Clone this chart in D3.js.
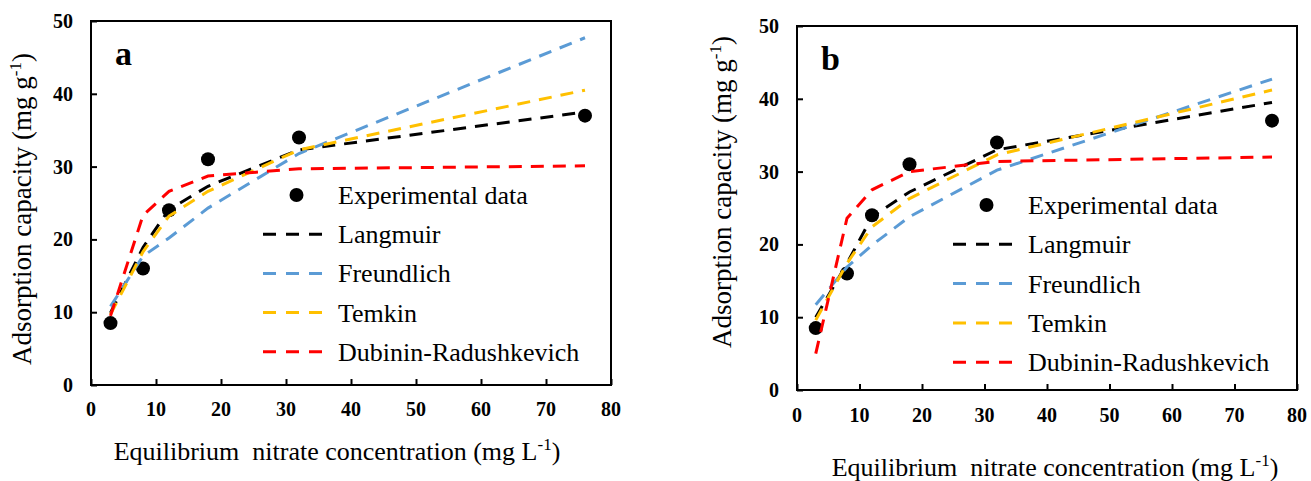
<!DOCTYPE html>
<html lang="en">
	<head>
		<meta charset="utf-8">
		<title>Adsorption isotherms a and b</title>
		<script type="text/javascript" src="https://cdn.jsdelivr.net/npm/d3@7"></script>
		<style type="text/css">
			body { margin: 0; background: #fff; }
		</style>
	</head>
	<body>
		<script type="text/javascript">

			//Width and height of the page
			var w = 1311;
			var h = 481;
			var serif = "'Liberation Serif', 'Times New Roman', Times, 'DejaVu Serif', serif";

			//Equilibrium concentrations (same for both panels)
			var xValues = [3, 8, 12, 18, 32, 76];
			var experimental = [8.5, 16, 24, 31, 34, 37];

			//Panel a model fits
			var langmuirA    = [9.9, 18.9, 24.1, 27.3, 32.3, 37.5];
			var freundlichA  = [10.8, 17.7, 20.2, 24.3, 31.8, 47.7];
			var temkinA      = [9.7, 18.3, 23.2, 26.6, 32.3, 40.5];
			var dubininA     = [9.5, 23.3, 26.6, 28.7, 29.7, 30.1];

			//Panel b model fits
			var langmuirB    = [10.0, 17.4, 23.8, 27.2, 33.0, 39.5];
			var freundlichB  = [11.7, 16.9, 19.9, 23.8, 30.2, 42.7];
			var temkinB      = [9.6, 17.4, 22.4, 26.3, 32.3, 41.2];
			var dubininB     = [5.0, 23.6, 27.5, 30.0, 31.4, 32.0];

			//Axis ticks and legend names
			var xTicks = [0, 10, 20, 30, 40, 50, 60, 70, 80];
			var yTicks = [0, 10, 20, 30, 40, 50];
			var seriesNames = ["Langmuir", "Freundlich", "Temkin", "Dubinin-Radushkevich"];
			var seriesColors = ["#000000", "#5B9BD5", "#FFC000", "#FF0000"];

			//Panel layout
			var panels = [
				{ label: "a", left: 91, right: 611, top: 21, bottom: 385,
				  fits: [langmuirA, freundlichA, temkinA, dubininA],
				  legX: 263, legY: 195, legStep: 39.2,
				  yTitleX: 31, yTitleY: 209, xTitleX: 337, xTitleY: 460, xTickY: 416 },
				{ label: "b", left: 797, right: 1297, top: 26, bottom: 390,
				  fits: [langmuirB, freundlichB, temkinB, dubininB],
				  legX: 953, legY: 205, legStep: 39.3,
				  yTitleX: 731, yTitleY: 192, xTitleX: 1055, xTitleY: 476, xTickY: 422 }
			];

			var svg = d3.select("body")
						.append("svg")
						.attr("width", w)
						.attr("height", h)
						.attr("font-family", serif);

			panels.forEach(function(p) {

				var xScale = d3.scaleLinear().domain([0, 80]).range([p.left, p.right]);
				var yScale = d3.scaleLinear().domain([0, 50]).range([p.bottom, p.top]);

				var g = svg.append("g");

				//Axes with inward ticks
				var xAxis = d3.axisBottom(xScale).tickValues(xTicks).tickSizeInner(-6).tickSizeOuter(0).tickFormat("");
				var yAxis = d3.axisLeft(yScale).tickValues(yTicks).tickSizeInner(-6).tickSizeOuter(0).tickFormat("");

				g.append("g")
				 .attr("transform", "translate(0," + p.bottom + ")")
				 .call(xAxis)
				 .call(function(s) {
				 	s.select(".domain").remove();
				 	s.selectAll("line").attr("stroke", "#000").attr("stroke-width", 2);
				 });

				g.append("g")
				 .attr("transform", "translate(" + p.left + ",0)")
				 .call(yAxis)
				 .call(function(s) {
				 	s.select(".domain").remove();
				 	s.selectAll("line").attr("stroke", "#000").attr("stroke-width", 2);
				 });

				//Frame round the plot area
				g.append("rect")
				 .attr("x", p.left)
				 .attr("y", p.top)
				 .attr("width", p.right - p.left)
				 .attr("height", p.bottom - p.top)
				 .attr("fill", "none")
				 .attr("stroke", "#000")
				 .attr("stroke-width", 2);

				//Tick labels
				g.selectAll(".xt")
				 .data(xTicks)
				 .enter()
				 .append("text")
				 .attr("font-family", serif)
				 .attr("font-weight", "bold")
				 .attr("font-size", "20px")
				 .attr("x", function(d) { return xScale(d); })
				 .attr("y", p.xTickY)
				 .attr("text-anchor", "middle")
				 .text(function(d) { return d; });

				g.selectAll(".yt")
				 .data(yTicks)
				 .enter()
				 .append("text")
				 .attr("font-family", serif)
				 .attr("font-weight", "bold")
				 .attr("font-size", "20px")
				 .attr("x", p.left - 18)
				 .attr("y", function(d) { return yScale(d) + 7; })
				 .attr("text-anchor", "end")
				 .text(function(d) { return d; });

				//Experimental points, drawn under the lines
				g.selectAll(".pt")
				 .data(experimental)
				 .enter()
				 .append("circle")
				 .attr("cx", function(d, i) { return xScale(xValues[i]); })
				 .attr("cy", function(d) { return yScale(d); })
				 .attr("r", 7)
				 .attr("fill", "#000");

				//Model lines
				var line = d3.line()
							.x(function(d, i) { return xScale(xValues[i]); })
							.y(function(d) { return yScale(d); });

				p.fits.forEach(function(vals, k) {
					g.append("path")
					 .datum(vals)
					 .attr("d", line)
					 .attr("fill", "none")
					 .attr("stroke", seriesColors[k])
					 .attr("stroke-width", 3)
					 .attr("stroke-dasharray", "13,9");
				});

				//Panel letter
				g.append("text")
				 .attr("font-family", serif)
				 .attr("x", p.left + 24)
				 .attr("y", p.top + 44)
				 .attr("font-size", "34px")
				 .attr("font-weight", "bold")
				 .text(p.label);

				//Legend
				var leg = g.append("g").attr("font-family", serif);
				var sampleLen = 59;
				leg.append("circle")
				   .attr("cx", p.legX + sampleLen / 2 + 4)
				   .attr("cy", p.legY)
				   .attr("r", 7)
				   .attr("fill", "#000");
				leg.append("text")
				   .attr("x", p.legX + 75)
				   .attr("y", p.legY + 9)
				   .attr("font-size", "26px")
				   .text("Experimental data");

				seriesNames.forEach(function(name, k) {
					var yy = p.legY + p.legStep * (k + 1);
					leg.append("line")
					   .attr("x1", p.legX)
					   .attr("x2", p.legX + sampleLen)
					   .attr("y1", yy)
					   .attr("y2", yy)
					   .attr("stroke", seriesColors[k])
					   .attr("stroke-width", 3)
					   .attr("stroke-dasharray", "13,10");
					leg.append("text")
					   .attr("x", p.legX + 75)
					   .attr("y", yy + 9)
					   .attr("font-size", "26px")
					   .text(name);
				});

				//Axis titles
				var xt = g.append("text")
						  .attr("font-family", serif)
						  .attr("x", p.xTitleX)
						  .attr("y", p.xTitleY)
						  .attr("text-anchor", "middle")
						  .attr("font-size", "26px")
						  .style("white-space", "pre");
				xt.append("tspan").text("Equilibrium  nitrate concentration (mg L");
				xt.append("tspan").attr("font-size", "17px").attr("dy", -10).text("-1");
				xt.append("tspan").attr("dy", 10).text(")");

				var yt = g.append("text")
						  .attr("font-family", serif)
						  .attr("transform", "translate(" + p.yTitleX + "," + p.yTitleY + ") rotate(-90)")
						  .attr("text-anchor", "middle")
						  .attr("font-size", "27px");
				yt.append("tspan").text("Adsorption capacity (mg g");
				yt.append("tspan").attr("font-size", "17px").attr("dy", -10).text("-1");
				yt.append("tspan").attr("dy", 10).text(")");
			});

		</script>
	</body>
</html>
